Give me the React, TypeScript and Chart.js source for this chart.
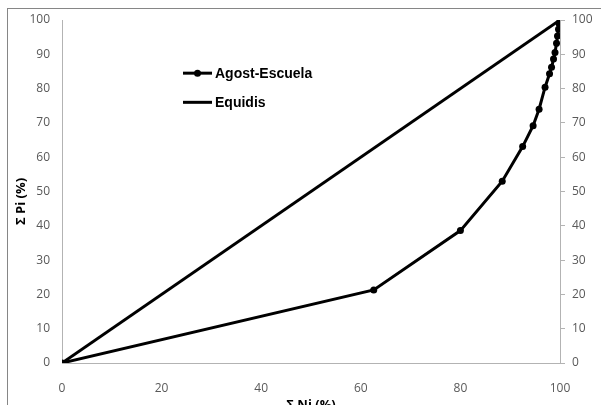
import React, { useEffect, useRef } from "react";
import { Chart, registerables } from "chart.js";

Chart.register(...registerables);

const niAgost = [0, 62.6, 80.0, 88.4, 92.5, 94.6, 95.8, 97.0, 97.9, 98.3, 98.7, 99.0, 99.3, 99.5, 99.7, 99.85, 100];
const piAgost = [0, 21.3, 38.6, 53.0, 63.1, 69.2, 74.0, 80.4, 84.3, 86.2, 88.6, 90.5, 93.2, 95.3, 97.3, 98.8, 100];
const niEquidis = [0, 100];
const piEquidis = [0, 100];
const seriesLabels = ["Agost-Escuela", "Equidis"];
const xTitle = "Σ Ni (%)";
const yTitle = "Σ Pi (%)";

const TICK_FONT = { family: "'Open Sans', 'Liberation Sans', sans-serif", size: 12 };
const TICK_COLOR = "#595959";
const AXIS_COLOR = "#b3b3b3";

const legendPlugin = {
  id: "customLegend",
  afterDraw(chart: any) {
    const ctx = chart.ctx;
    const area = chart.chartArea;
    const x0 = area.left + (area.right - area.left) * 0.243;
    const rows = [area.top + (area.bottom - area.top) * 0.155, area.top + (area.bottom - area.top) * 0.24];
    ctx.save();
    chart.data.datasets.forEach((ds: any, i: number) => {
      const y = rows[i];
      ctx.strokeStyle = "#000";
      ctx.lineWidth = 3;
      ctx.beginPath();
      ctx.moveTo(x0, y);
      ctx.lineTo(x0 + 29, y);
      ctx.stroke();
      if (ds.pointRadius > 0) {
        ctx.fillStyle = "#000";
        ctx.beginPath();
        ctx.arc(x0 + 14.5, y, 3.5, 0, Math.PI * 2);
        ctx.fill();
      }
      ctx.fillStyle = "#000";
      ctx.font = "bold 14px 'Liberation Sans', Arial, sans-serif";
      ctx.textBaseline = "middle";
      ctx.textAlign = "left";
      ctx.fillText(ds.label, x0 + 32, y + 0.5);
    });
    ctx.restore();
  },
};

const yTitlePlugin = {
  id: "yTitle",
  afterDraw(chart: any) {
    const ctx = chart.ctx;
    const area = chart.chartArea;
    ctx.save();
    ctx.translate(21, (area.top + area.bottom) / 2 + 10);
    ctx.rotate(-Math.PI / 2);
    ctx.font = "bold 13px 'Open Sans', 'Liberation Sans', sans-serif";
    ctx.fillStyle = "#000";
    ctx.textAlign = "center";
    ctx.textBaseline = "middle";
    ctx.fillText(yTitle, 0, 0);
    ctx.restore();
  },
};

export default function App() {
  const ref = useRef<HTMLCanvasElement | null>(null);

  useEffect(() => {
    if (!ref.current) return;
    const chart = new Chart(ref.current, {
      type: "line",
      data: {
        datasets: [
          {
            label: seriesLabels[0],
            data: niAgost.map((x, i) => ({ x, y: piAgost[i] })),
            borderColor: "#000",
            backgroundColor: "#000",
            borderWidth: 3,
            pointRadius: 3.5,
            pointBackgroundColor: "#000",
            pointBorderColor: "#000",
            pointBorderWidth: 0,
            tension: 0,
            yAxisID: "y",
          },
          {
            label: seriesLabels[1],
            data: niEquidis.map((x, i) => ({ x, y: piEquidis[i] })),
            borderColor: "#000",
            backgroundColor: "#000",
            borderWidth: 3,
            pointRadius: 0,
            tension: 0,
            yAxisID: "y",
          },
        ],
      },
      options: {
        responsive: false,
        animation: false,
        layout: { padding: { top: 20, left: 0, right: 0, bottom: 0 } },
        plugins: {
          legend: { display: false },
          tooltip: { enabled: false },
        },
        scales: {
          x: {
            type: "linear",
            position: "bottom",
            min: 0,
            max: 100,
            grid: { display: false, drawTicks: false },
            border: { display: true, color: AXIS_COLOR, width: 1 },
            ticks: { stepSize: 20, padding: 18, font: TICK_FONT, color: TICK_COLOR, maxRotation: 0 },
            title: {
              display: true,
              text: xTitle,
              color: "#000",
              font: { family: "'Open Sans', 'Liberation Sans', sans-serif", size: 13, weight: "bold" },
              padding: { top: 0, bottom: 17 },
            },
            afterFit(scale: any) {
              scale.height = 67;
            },
          },
          y: {
            type: "linear",
            position: "left",
            min: 0,
            max: 100,
            grid: { display: false, drawTicks: false },
            border: { display: true, color: AXIS_COLOR, width: 1 },
            ticks: { stepSize: 10, padding: 12, font: TICK_FONT, color: TICK_COLOR },
            afterFit(scale: any) {
              scale.width = 62;
            },
          },
          y2: {
            type: "linear",
            position: "right",
            min: 0,
            max: 100,
            grid: { display: true, drawOnChartArea: false, drawTicks: true, tickLength: 5, color: AXIS_COLOR },
            border: { display: true, color: AXIS_COLOR, width: 1 },
            ticks: { stepSize: 10, padding: 7, font: TICK_FONT, color: TICK_COLOR },
            afterFit(scale: any) {
              scale.width = 41;
            },
          },
        },
      },
      plugins: [legendPlugin, yTitlePlugin],
    });
    return () => chart.destroy();
  }, []);

  return (
    <div style={{ position: "fixed", left: 0, top: 0, width: 601, height: 405, overflow: "hidden", background: "#fff" }}>
      <div
        style={{
          position: "absolute",
          left: 7,
          top: 8,
          width: 700,
          height: 600,
          borderLeft: "1px solid #868686",
          borderTop: "1px solid #868686",
        }}
      />
      <canvas
        ref={ref}
        width={601}
        height={430}
        style={{ position: "absolute", left: 0, top: 0, width: 601, height: 430 }}
      />
    </div>
  );
}
